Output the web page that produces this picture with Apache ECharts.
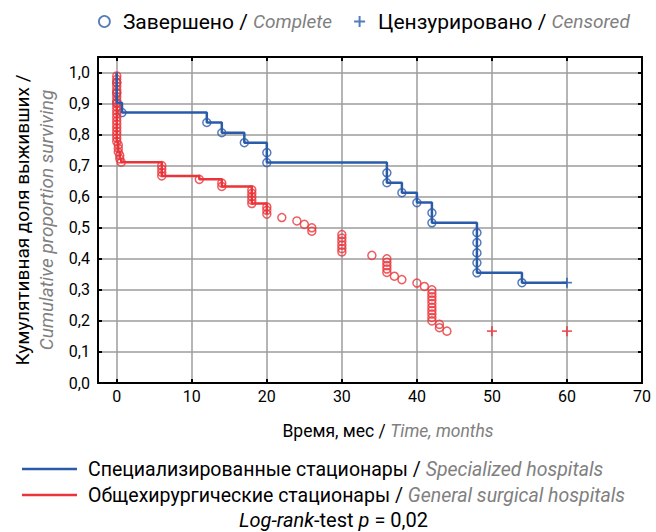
<!DOCTYPE html>
<html><head><meta charset="utf-8">
<script src="https://cdn.jsdelivr.net/npm/echarts@6/dist/echarts.min.js"></script>
<style>html,body{margin:0;padding:0;background:#fff}#c{width:656px;height:532px}</style>
</head><body><div id="c"></div>
<script>
// ---- data ----
const xTicks = [0, 10, 20, 30, 40, 50, 60, 70];
const yTicks = [0, 0.1, 0.2, 0.3, 0.4, 0.5, 0.6, 0.7, 0.8, 0.9, 1.0];

// Specialized hospitals: event times (months) and survival after each event
const blueTimes = [0, 0, 0, 0.7, 12, 14, 17, 20, 20, 36, 36, 38, 40, 42, 42, 48, 48, 48, 48, 48, 54];
const blueSurv  = [0.968, 0.935, 0.903, 0.871, 0.839, 0.806, 0.774, 0.742, 0.710, 0.677, 0.645, 0.613, 0.581, 0.548, 0.516, 0.484, 0.452, 0.419, 0.387, 0.355, 0.323];
const blueCensTimes = [60];
const blueCensSurv  = [0.323];

// General surgical hospitals
const redTimes = [0, 0, 0, 0, 0, 0, 0, 0, 0, 0, 0, 0, 0, 0, 0, 0, 0, 0, 0, 0,
  0.2, 0.2, 0.2, 0.4, 0.4, 0.6,
  6, 6, 6, 6, 11, 14, 14, 18, 18, 18, 18, 18, 20, 20, 20,
  22, 24, 25, 26, 26, 30, 30, 30, 30, 30, 30, 34, 36, 36, 36, 36, 36, 37, 38, 40, 41,
  42, 42, 42, 42, 42, 42, 42, 42, 42, 42, 43, 43, 44];
const redSurv = [0.989, 0.978, 0.967, 0.956, 0.944, 0.933, 0.922, 0.911, 0.900, 0.889, 0.878, 0.867, 0.856, 0.844, 0.833, 0.822, 0.811, 0.800, 0.789, 0.778,
  0.767, 0.756, 0.744, 0.733, 0.722, 0.711,
  0.700, 0.689, 0.678, 0.667, 0.656, 0.644, 0.633, 0.622, 0.611, 0.600, 0.589, 0.578, 0.567, 0.556, 0.544,
  0.533, 0.522, 0.511, 0.500, 0.489, 0.478, 0.467, 0.456, 0.444, 0.433, 0.422, 0.411, 0.400, 0.389, 0.378, 0.367, 0.356, 0.344, 0.333, 0.322, 0.311,
  0.300, 0.289, 0.278, 0.267, 0.256, 0.244, 0.233, 0.222, 0.211, 0.200, 0.189, 0.178, 0.167];
const redCensTimes = [50, 60];
const redCensSurv  = [0.167, 0.167];
const redLineLastTime = 20; // step line drawn only up to this time

const seriesNames = ['Специализированные стационары', 'Общехирургические стационары'];
const seriesNamesEn = ['Specialized hospitals', 'General surgical hospitals'];
const markNames = ['Завершено', 'Цензурировано'];
const markNamesEn = ['Complete', 'Censored'];

// ---- build ----
const BLUE = '#2a5ba9', RED = '#ea3439', GRID = '#9d9d9d', GREY = '#808080';
const FONT = 'Roboto';
const PLUS = 'path://M4.1,0H5.9V4.1H10V5.9H5.9V10H4.1V5.9H0V4.1H4.1Z';

const pts = (ts, ss) => ts.map((t, i) => [t, ss[i]]);
const blueLine = [[0, 1]].concat(pts(blueTimes, blueSurv), pts(blueCensTimes, blueCensSurv));
const redLine = [[0, 1]].concat(pts(redTimes, redSurv).filter(p => p[0] <= redLineLastTime));

const fmtNum = v => (Math.round(v * 10) / 10).toFixed(1).replace('.', ',');
const enMap = {};
seriesNames.forEach((n, i) => enMap[n] = seriesNamesEn[i]);
markNames.forEach((n, i) => enMap[n] = markNamesEn[i]);

const circleStyle = c => ({color: 'rgba(255,255,255,0)', borderColor: c, borderWidth: 1.5});

const axisLineBlack = {show: true, onZero: false, lineStyle: {color: '#000', width: 2}};
const tickStyle = vals => ({show: true, inside: true, length: 4, customValues: vals, lineStyle: {color: '#000', width: 2}});

const legendRich = (fsRu, fsEn, gap) => ({
  g: {width: gap},
  ru: {fontFamily: FONT, fontSize: fsRu, color: '#000'},
  s: {fontFamily: FONT, fontSize: fsRu, color: '#000'},
  en: {fontFamily: FONT, fontSize: fsEn, color: GREY, fontStyle: 'italic'}
});

const option = {
  animation: false,
  backgroundColor: '#fff',
  textStyle: {fontFamily: FONT},
  grid: {left: 98, right: 14, top: 57, bottom: 149},
  title: {
    text: '{it|Log-rank}{n|-test }{it|p}{n| = 0,02}',
    left: 239, top: 510, padding: 0,
    textStyle: {fontWeight: 'normal', rich: {
      it: {fontFamily: FONT, fontSize: 20, fontStyle: 'italic', fontWeight: 'normal', color: '#000'},
      n: {fontFamily: FONT, fontSize: 20, fontWeight: 'normal', color: '#000'}
    }}
  },
  legend: [
    {
      data: [
        {name: markNames[0], icon: 'circle', itemStyle: {color: 'rgba(255,255,255,0)', borderColor: BLUE, borderWidth: 1.8}},
        {name: markNames[1], icon: PLUS, itemStyle: {color: BLUE, borderWidth: 0}}
      ],
      left: 98, top: 11, padding: 0, itemWidth: 11, itemHeight: 11, itemGap: 22,
      selectedMode: false,
      formatter: n => '{g|}{ru|' + n + '}{s| / }{en|' + enMap[n] + '}',
      textStyle: {rich: legendRich(21, 19, 8)}
    },
    {
      data: [
        {name: seriesNames[0], icon: 'rect', itemStyle: {color: BLUE}},
        {name: seriesNames[1], icon: 'rect', itemStyle: {color: RED}}
      ],
      orient: 'vertical', left: 22, top: 459, padding: 0, itemWidth: 55, itemHeight: 2.5, itemGap: 6,
      selectedMode: false,
      formatter: n => '{g|}{ru|' + n + '}{s| / }{en|' + enMap[n] + '}',
      textStyle: {rich: legendRich(19.5, 19.5, 6)}
    }
  ],
  xAxis: [
    {
      type: 'value', position: 'bottom', min: -2.5, max: 70,
      axisLine: axisLineBlack,
      axisTick: tickStyle(xTicks),
      axisLabel: {customValues: xTicks, fontSize: 16, color: '#000', margin: 5, fontFamily: FONT},
      splitLine: {show: true, lineStyle: {color: GRID, width: 1.5}},
      name: '{ru|Время, мес / }{en|Time, months}',
      nameLocation: 'middle', nameGap: 39,
      nameTextStyle: {padding: [0, 0, 0, 36], rich: {
        ru: {fontFamily: FONT, fontSize: 17.5, color: '#000'},
        en: {fontFamily: FONT, fontSize: 17.5, color: GREY, fontStyle: 'italic'}
      }}
    },
    {
      type: 'value', position: 'top', min: -2.5, max: 70,
      axisLine: axisLineBlack,
      axisTick: tickStyle(xTicks),
      axisLabel: {show: false}, splitLine: {show: false}
    }
  ],
  yAxis: [
    {
      type: 'value', position: 'left', min: 0, max: 1.05,
      axisLine: axisLineBlack,
      axisTick: tickStyle(yTicks),
      axisLabel: {customValues: yTicks, fontSize: 16, color: '#000', margin: 8, fontFamily: FONT, formatter: fmtNum},
      splitLine: {show: true, lineStyle: {color: GRID, width: 1.5}},
      name: '{ru|Кумулятивная доля выживших /}\n{en|Cumulative proportion surviving}',
      nameLocation: 'middle', nameGap: 40, nameRotate: 90,
      nameTextStyle: {rich: {
        ru: {fontFamily: FONT, fontSize: 19, color: '#000', lineHeight: 24},
        en: {fontFamily: FONT, fontSize: 19, color: GREY, fontStyle: 'italic', lineHeight: 24}
      }}
    },
    {
      type: 'value', position: 'right', min: 0, max: 1.05,
      axisLine: axisLineBlack,
      axisTick: tickStyle(yTicks),
      axisLabel: {show: false}, splitLine: {show: false}
    }
  ],
  series: [
    {name: seriesNames[1], type: 'line', step: 'end', data: redLine, showSymbol: false, silent: true,
     lineStyle: {color: RED, width: 2.5}, itemStyle: {color: RED}},
    {name: seriesNames[0], type: 'line', step: 'end', data: blueLine, showSymbol: false, silent: true,
     lineStyle: {color: BLUE, width: 2.5}, itemStyle: {color: BLUE}},
    {name: markNames[0], type: 'scatter', data: pts(blueTimes, blueSurv), symbol: 'circle', symbolSize: 8, silent: true,
     itemStyle: circleStyle(BLUE)},
    {name: markNames[0], type: 'scatter', data: pts(redTimes, redSurv), symbol: 'circle', symbolSize: 8, silent: true,
     itemStyle: circleStyle(RED)},
    {name: markNames[1], type: 'scatter', data: pts(blueCensTimes, blueCensSurv), symbol: PLUS, symbolSize: 10, silent: true,
     itemStyle: {color: BLUE}},
    {name: markNames[1], type: 'scatter', data: pts(redCensTimes, redCensSurv), symbol: PLUS, symbolSize: 10, silent: true,
     itemStyle: {color: RED}}
  ]
};

const chart = echarts.init(document.getElementById('c'), null, {renderer: 'svg'});
chart.setOption(option);
</script>
</body></html>
